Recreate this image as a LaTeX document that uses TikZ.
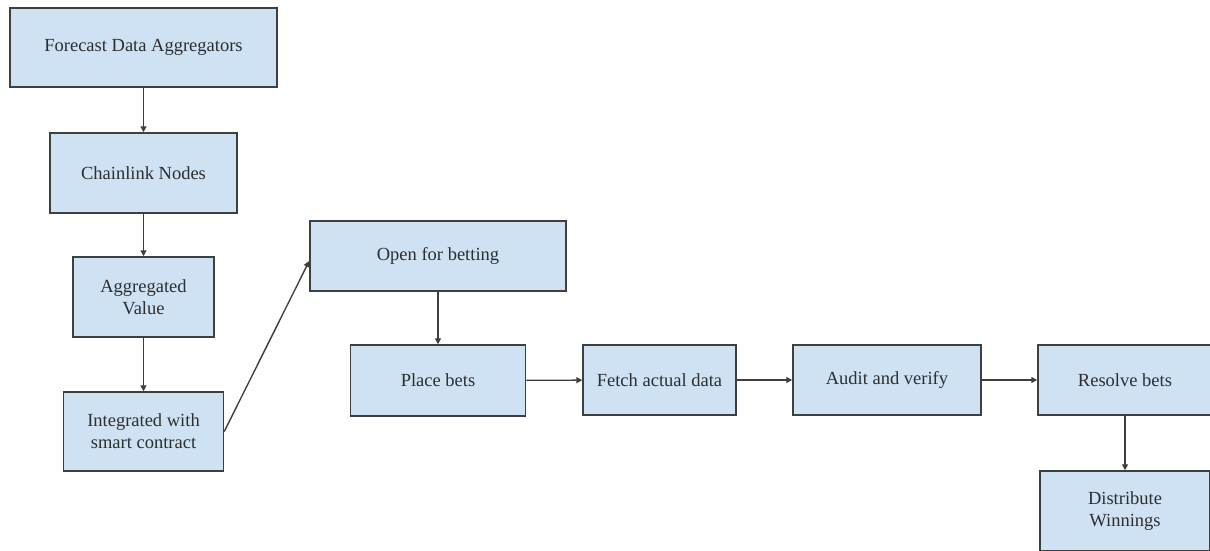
\documentclass[tikz,border=0pt]{standalone}
\usepackage{fontspec}
\setmainfont{Liberation Serif}
\usetikzlibrary{arrows.meta}
\definecolor{boxfill}{HTML}{CFE2F3}
\definecolor{boxline}{HTML}{3F3F3F}
\definecolor{ink}{HTML}{2E2E2E}
\tikzset{
  flowbox/.style={draw=boxline, line width=1.5pt, fill=boxfill, rectangle,
    inner sep=0pt, align=center, text=ink,
    font=\fontsize{18.5}{22}\selectfont},
  flowarrow/.style={draw=boxline, line width=1.4pt,
    -{Triangle[length=6pt,width=6pt]}}
}
\begin{document}
\begin{tikzpicture}[x=1pt,y=-1pt]
  \useasboundingbox (0,0) rectangle (1210,551);
  \fill[white] (0,0) rectangle (1210,551);
  \clip (0,0) rectangle (1210,551);

  % data pipeline (left column)
  \node[flowbox, minimum width=267pt, minimum height=79pt] (fda) at (143.5,47.5) {Forecast Data Aggregators};
  \node[flowbox, minimum width=187pt, minimum height=80pt] (cln) at (143.5,173) {Chainlink Nodes};
  \node[flowbox, minimum width=141pt, minimum height=80pt] (agv) at (143.5,297) {Aggregated\\Value};
  \node[flowbox, minimum width=160pt, minimum height=79pt] (isc) at (143.5,431.5) {Integrated with\\smart contract};

  % betting flow
  \node[flowbox, minimum width=256pt, minimum height=70pt] (ofb) at (438,256) {Open for betting};
  \node[flowbox, minimum width=175pt, minimum height=71pt] (plb) at (438,380.5) {Place bets};
  \node[flowbox, minimum width=153pt, minimum height=70pt] (fad) at (659.5,380) {Fetch actual data};
  \node[flowbox, minimum width=188pt, minimum height=70pt] (aav) at (887,380) {Audit and verify};
  \node[flowbox, minimum width=174pt, minimum height=70pt] (rsb) at (1125,380) {Resolve bets};
  \node[flowbox, minimum width=170pt, minimum height=80pt] (dsw) at (1125,511) {Distribute\\Winnings};

  % connectors
  \draw[flowarrow] (fda) -- (cln);
  \draw[flowarrow] (cln) -- (agv);
  \draw[flowarrow] (agv) -- (isc);
  \draw[flowarrow] (isc.east) -- ([yshift=-5pt]ofb.west);
  \draw[flowarrow] (ofb) -- (plb);
  \draw[flowarrow] (plb) -- (fad);
  \draw[flowarrow] (fad) -- (aav);
  \draw[flowarrow] (aav) -- (rsb);
  \draw[flowarrow] (rsb) -- (dsw);
\end{tikzpicture}
\end{document}
